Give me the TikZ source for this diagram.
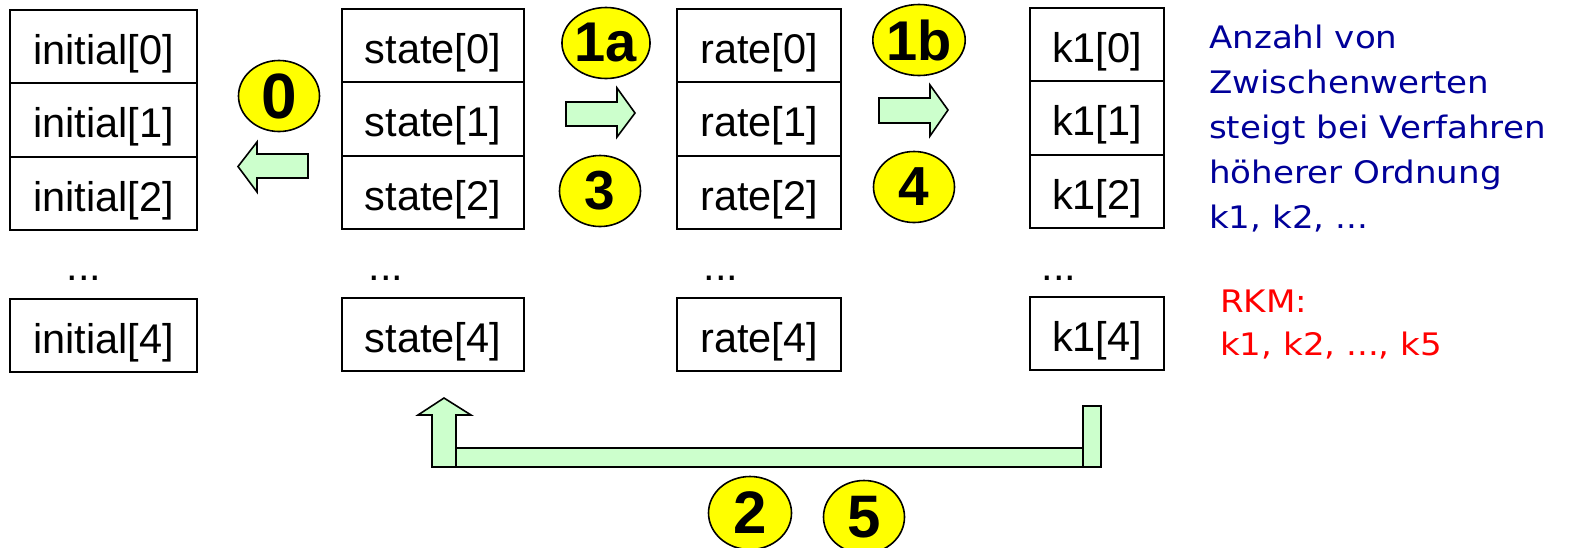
\documentclass[tikz,border=0pt]{standalone}
\usepackage{fontspec}
\setmainfont{Liberation Sans}
\newfontfamily\notefont{DejaVu Sans}
\usetikzlibrary{shapes.geometric}

\definecolor{arrowfill}{RGB}{204,255,204}
\definecolor{noteblue}{RGB}{0,0,153}
\definecolor{notered}{RGB}{255,0,0}
\definecolor{badgefill}{RGB}{255,255,0}

\newcommand{\wide}[1]{\scalebox{1.1}[1]{#1}}

\tikzset{
  cell/.style={draw, line width=2pt, inner sep=0pt, minimum height=73.5pt,
    text height=37pt, text depth=2pt, font=\fontsize{41.5}{41.5}\selectfont},
  more/.style={anchor=base, inner sep=0pt, font=\fontsize{41.5}{41.5}\selectfont},
  badge/.style={ellipse, draw, line width=1.6pt, fill=badgefill, inner sep=0pt,
    minimum width=81pt, minimum height=71pt, font=\bfseries},
  blockarrow/.style={fill=arrowfill, draw, line width=1.6pt, line join=miter},
  note/.style={anchor=base west, inner sep=0pt, font=\notefont\fontsize{31}{31}\selectfont},
}

\begin{document}
\begin{tikzpicture}[x=1pt, y=-1pt]
  \useasboundingbox (0,0) rectangle (1581,547);

  % initial[]
  \node[cell, minimum width=187pt] (i0) at (103.5,46.5) {initial[0]};
  \node[cell, minimum width=187pt] (i1) at (103.5,120) {initial[1]};
  \node[cell, minimum width=187pt] (i2) at (103.5,193.5) {initial[2]};
  \node[more] (idots) at (84,280) {...};
  \node[cell, minimum width=187pt] (i4) at (103.5,335.5) {initial[4]};

  % state[]
  \node[cell, minimum width=182pt] (s0) at (433,45.5) {state[0]};
  \node[cell, minimum width=182pt] (s1) at (433,119) {state[1]};
  \node[cell, minimum width=182pt] (s2) at (433,192.5) {state[2]};
  \node[more] (sdots) at (386,280) {...};
  \node[cell, minimum width=182pt] (s4) at (433,334.5) {state[4]};

  % rate[]
  \node[cell, minimum width=164pt] (r0) at (759,45.5) {rate[0]};
  \node[cell, minimum width=164pt] (r1) at (759,119) {rate[1]};
  \node[cell, minimum width=164pt] (r2) at (759,192.5) {rate[2]};
  \node[more] (rdots) at (721,280) {...};
  \node[cell, minimum width=164pt] (r4) at (759,334.5) {rate[4]};

  % k1[]
  \node[cell, minimum width=134pt] (k0) at (1097,44.5) {k1[0]};
  \node[cell, minimum width=134pt] (k1) at (1097,118) {k1[1]};
  \node[cell, minimum width=134pt] (k2) at (1097,191.5) {k1[2]};
  \node[more] (kdots) at (1059,280) {...};
  \node[cell, minimum width=134pt] (k4) at (1097,333.5) {k1[4]};

  % block arrows between the arrays
  \draw[blockarrow] (308,154) -- (257,154) -- (257,142) -- (238,166.5)
    -- (257,192) -- (257,178) -- (308,178) -- cycle;
  \draw[blockarrow] (566,102) -- (617,102) -- (617,88) -- (635,113)
    -- (617,137) -- (617,126) -- (566,126) -- cycle;
  \draw[blockarrow] (879,98) -- (930,98) -- (930,85) -- (948,110)
    -- (930,136) -- (930,123) -- (879,123) -- cycle;

  % feedback from k1 back to state
  \draw[blockarrow] (456,448) rectangle (1083,467);
  \draw[blockarrow] (1083,406) rectangle (1101,467);
  \draw[blockarrow] (432,467) -- (432,415) -- (418,415) -- (444,398)
    -- (471,415) -- (456,415) -- (456,467) -- cycle;

  % step numbers
  \node[badge, font=\bfseries\fontsize{64}{64}\selectfont] (b0) at (279,96) {0};
  \node[badge, font=\bfseries\fontsize{56}{56}\selectfont] (b1a) at (606,43) {1a};
  \node[badge, font=\bfseries\fontsize{55}{55}\selectfont] (b3) at (600,191) {3};
  \node[badge, font=\bfseries\fontsize{56}{56}\selectfont] (b1b) at (919,40) {1b};
  \node[badge, font=\bfseries\fontsize{55}{55}\selectfont] (b4) at (914,187) {4};
  \node[badge, font=\bfseries\fontsize{60}{60}\selectfont, minimum width=83pt, minimum height=73pt] (b2) at (750,513) {2};
  \node[badge, font=\bfseries\fontsize{60}{60}\selectfont, minimum height=73pt] (b5) at (864,517) {5};

  % remarks
  \node[note, text=noteblue] (n1) at (1209,48) {\wide{Anzahl von}};
  \node[note, text=noteblue] (n2) at (1209,93) {\wide{Zwischenwerten}};
  \node[note, text=noteblue] (n3) at (1209,138) {\wide{steigt bei Verfahren}};
  \node[note, text=noteblue] (n4) at (1209,183) {\wide{höherer Ordnung}};
  \node[note, text=noteblue] (n5) at (1209,228) {\wide{k1, k2, ...}};
  \node[note, text=notered] (m1) at (1220,312) {\wide{RKM:}};
  \node[note, text=notered] (m2) at (1220,355) {\wide{k1, k2, ..., k5}};
\end{tikzpicture}
\end{document}
